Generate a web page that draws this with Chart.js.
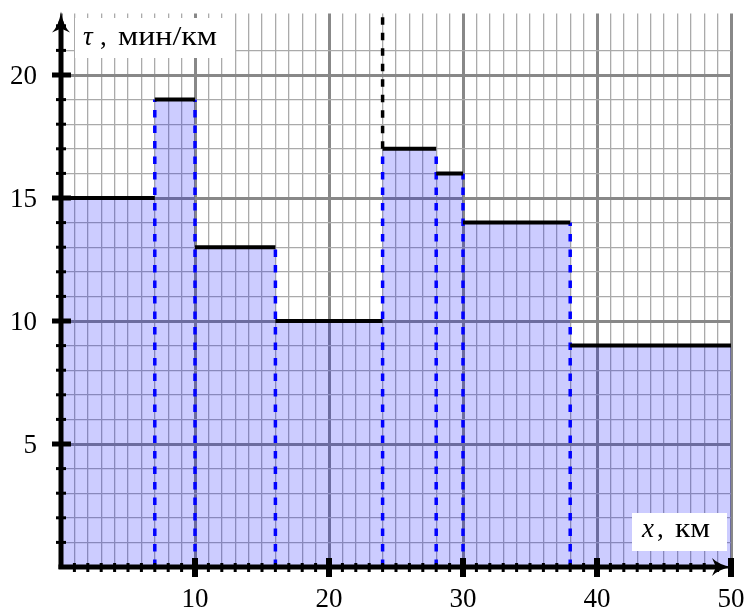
<!DOCTYPE html>
<html>
<head>
<meta charset="utf-8">
<script src="https://cdn.jsdelivr.net/npm/chart.js@4.4.0/dist/chart.umd.min.js"></script>
<style>
  html, body { margin: 0; padding: 0; background: #fff; }
  #wrap { width: 747px; height: 609px; }
</style>
</head>
<body>
<div id="wrap"><canvas id="chart"></canvas></div>
<script>
// отрезки пути (км) и темп на каждом (мин/км)
const edges = [0, 7, 10, 16, 24, 28, 30, 38, 50];
const paces = [15, 19, 13, 10, 17, 16, 14, 9];
const markX = [24];
const xTickLabels = [10, 20, 30, 40, 50];
const yTickLabels = [5, 10, 15, 20];
const xMax = 50;
const yMax = 22.5;

const serif = "'Liberation Serif', 'DejaVu Serif', serif";

var datasets = [];

// заливка под ступенчатой функцией
var fillPts = [];
paces.forEach((p, i) => {
    fillPts.push({ x: edges[i], y: p });
    fillPts.push({ x: edges[i + 1], y: p });
});
datasets.push({
    data: fillPts,
    fill: 'origin',
    backgroundColor: 'rgba(0,0,255,0.2)',
    borderWidth: 0,
    pointRadius: 0,
    order: 5
});

// синие пунктирные вертикали
for (let i = 1; i < edges.length - 1; i++) {
    datasets.push({
        data: [{ x: edges[i], y: 0 }, { x: edges[i], y: Math.max(paces[i - 1], paces[i]) }],
        borderColor: '#0000ff',
        borderWidth: 3.5,
        borderDash: [7.5, 8],
        pointRadius: 0,
        fill: false,
        order: 3
    });
}

// чёрные горизонтальные отрезки
paces.forEach((p, i) => {
    datasets.push({
        data: [{ x: edges[i], y: p }, { x: edges[i + 1], y: p }],
        borderColor: '#000',
        borderWidth: 4,
        pointRadius: 0,
        fill: false,
        order: 1
    });
});

// чёрная пунктирная вертикаль
markX.forEach(mx => {
    let k = edges.indexOf(mx);
    datasets.push({
        data: [{ x: mx, y: paces[k] }, { x: mx, y: yMax }],
        borderColor: '#000',
        borderWidth: 3.5,
        borderDash: [7.5, 8],
        pointRadius: 0,
        fill: false,
        order: 2
    });
});

function drawWide(ctx, text, x, y, width) {
    // растягиваем текст по ширине, как в оригинале
    const w = ctx.measureText(text).width;
    ctx.save();
    ctx.translate(x, y);
    ctx.scale(width / w, 1);
    ctx.fillText(text, 0, 0);
    ctx.restore();
}

const axesPlugin = {
    id: 'axesPlugin',
    afterDraw(chart) {
        const ctx = chart.ctx;
        const xs = chart.scales.x, ys = chart.scales.y;
        const x0 = xs.getPixelForValue(0), y0 = ys.getPixelForValue(0);
        const xEnd = xs.getPixelForValue(xMax), yTop = chart.chartArea.top;
        ctx.save();
        ctx.fillStyle = '#000';
        // ticks x
        for (let v = 1; v <= xMax; v++) {
            const px = xs.getPixelForValue(v);
            if (v % 10 === 0) ctx.fillRect(px - 3, y0 - 9, 6, 19);
            else ctx.fillRect(px - 1.5, y0 - 4, 3, 9);
        }
        // ticks y
        for (let v = 1; v <= Math.floor(yMax); v++) {
            const py = ys.getPixelForValue(v);
            if (v % 5 === 0) ctx.fillRect(x0 - 9, py - 2.5, 19, 5);
            else ctx.fillRect(x0 - 5, py - 1.5, 10, 3);
        }
        // оси
        ctx.fillRect(x0 - 2.5, yTop + 8, 5, y0 - yTop - 6);
        ctx.fillRect(x0 - 2.5, y0 - 2.5, xEnd - x0 - 8, 5);
        // стрелки
        ctx.beginPath();
        ctx.moveTo(x0, yTop - 2);
        ctx.quadraticCurveTo(x0 + 2, yTop + 12, x0 + 9, yTop + 19);
        ctx.lineTo(x0, yTop + 15);
        ctx.lineTo(x0 - 9, yTop + 19);
        ctx.quadraticCurveTo(x0 - 2, yTop + 12, x0, yTop - 2);
        ctx.fill();
        ctx.beginPath();
        ctx.moveTo(xEnd + 1, y0);
        ctx.quadraticCurveTo(xEnd - 12, y0 - 2, xEnd - 19, y0 - 9);
        ctx.lineTo(xEnd - 15, y0);
        ctx.lineTo(xEnd - 19, y0 + 9);
        ctx.quadraticCurveTo(xEnd - 12, y0 + 2, xEnd + 1, y0);
        ctx.fill();

        // подписи делений
        ctx.font = '27px ' + serif;
        ctx.textBaseline = 'alphabetic';
        ctx.textAlign = 'center';
        xTickLabels.forEach(v => ctx.fillText(String(v), xs.getPixelForValue(v), 607));
        ctx.textAlign = 'right';
        yTickLabels.forEach(v => ctx.fillText(String(v), x0 - 24, ys.getPixelForValue(v) + 9));
        ctx.textAlign = 'left';

        // подписи осей
        ctx.fillStyle = '#fff';
        ctx.fillRect(75, 18, 160, 40);
        ctx.fillRect(632, 513, 95, 38);
        ctx.fillStyle = '#000';
        ctx.font = 'italic 27px ' + serif;
        ctx.fillText('τ', 83, 45);
        ctx.font = '27px ' + serif;
        ctx.fillText(',', 100, 45);
        drawWide(ctx, 'мин/км', 118, 45, 99);
        ctx.font = 'italic 27px ' + serif;
        ctx.fillText('x', 642, 537);
        ctx.font = '27px ' + serif;
        ctx.fillText(',', 657, 537);
        drawWide(ctx, 'км', 675, 537, 35);
        ctx.restore();
    }
};

const chartConfig = {
    type: 'line',
    data: { datasets: datasets },
    options: {
        responsive: true,
        maintainAspectRatio: false,
        animation: false,
        parsing: false,
        layout: { padding: { top: 13.5, right: 16, left: 0, bottom: 0 } },
        plugins: { legend: { display: false }, tooltip: { enabled: false } },
        scales: {
            x: {
                type: 'linear',
                min: 0,
                max: xMax,
                afterFit: s => { s.height = 42; },
                border: { display: false },
                grid: {
                    drawTicks: false,
                    color: c => c.tick.value % 10 === 0 ? '#888' : '#aaa',
                    lineWidth: c => c.tick.value % 10 === 0 ? 3 : 1.3
                },
                ticks: { stepSize: 1, autoSkip: false, display: false }
            },
            y: {
                type: 'linear',
                min: 0,
                max: yMax,
                afterFit: s => { s.width = 61; },
                afterBuildTicks: s => { s.ticks = s.ticks.filter(t => Number.isInteger(t.value)); },
                border: { display: false },
                grid: {
                    drawTicks: false,
                    color: c => c.tick.value % 5 === 0 ? '#888' : '#aaa',
                    lineWidth: c => c.tick.value % 5 === 0 ? 3 : 1.3
                },
                ticks: { stepSize: 1, autoSkip: false, display: false }
            }
        }
    },
    plugins: [axesPlugin]
};

var ctx = document.getElementById('chart').getContext('2d');
var myChart = new Chart(ctx, chartConfig);
</script>
</body>
</html>
